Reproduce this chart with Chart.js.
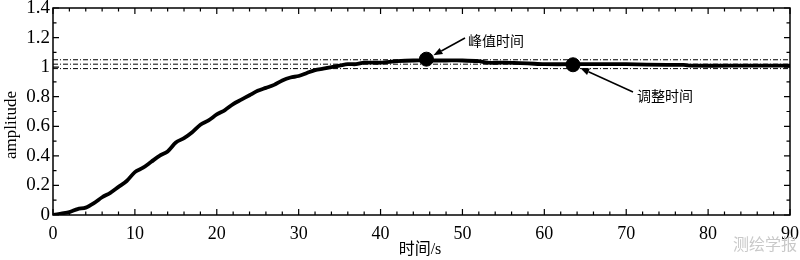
<!DOCTYPE html>
<html>
<head>
<meta charset="utf-8">
<script src="https://cdn.jsdelivr.net/npm/chart.js@4.4.1/dist/chart.umd.min.js"></script>
<style>
  html, body { margin: 0; padding: 0; background: #fff; }
  #wrap { width: 800px; height: 260px; }
</style>
</head>
<body>
<div id="wrap"><canvas id="step"></canvas></div>
<script>
// step response
var times     = [0, 1, 2, 3, 4, 5, 6, 7, 8, 9, 10, 11, 12, 13, 14, 15, 16, 17, 18, 19, 20,
                 21, 22, 23, 24, 25, 26, 27, 28, 29, 30, 31, 32, 33, 34, 35, 36, 37, 38, 40,
                 42, 44, 46, 48, 50, 52, 53, 55, 58, 60, 65, 68, 70, 75, 77, 78, 85, 90];
var amplitude = [0, 0.01, 0.02, 0.04, 0.05, 0.08, 0.12, 0.15, 0.19, 0.23, 0.29, 0.32, 0.36, 0.40, 0.43, 0.49, 0.52, 0.56, 0.61, 0.64, 0.68,
                 0.71, 0.75, 0.78, 0.81, 0.84, 0.86, 0.88, 0.91, 0.93, 0.94, 0.96, 0.98, 0.99, 1.00, 1.01, 1.02, 1.02, 1.03, 1.03,
                 1.04, 1.045, 1.045, 1.045, 1.045, 1.04, 1.03, 1.03, 1.025, 1.02, 1.02, 1.02, 1.02, 1.015, 1.015, 1.01, 1.01, 1.01];
var bandLevels = [1.05, 1.02, 0.99];
var markerTimes = [45.6, 63.5];
var markerValues = [1.054, 1.016];
var markerLabels = ['峰值时间', '调整时间'];
var xTickLabels = [0, 10, 20, 30, 40, 50, 60, 70, 80, 90];
var yTickLabels = [0, 0.2, 0.4, 0.6, 0.8, 1, 1.2, 1.4];

var serif = '"Liberation Serif", "Times New Roman", "Noto Sans CJK SC", serif';

// label text position / arrow tail in pixels
var labelText = [[468, 42], [637, 97]];
var labelTail = [[465, 38], [633, 92]];

var curve = times.map(function (t, i) { return { x: t, y: amplitude[i] }; });

var datasets = bandLevels.map(function (v) {
  return {
    data: [{ x: 0, y: v }, { x: 90, y: v }],
    borderColor: '#000',
    borderWidth: 1,
    borderDash: [5, 2, 1, 2],
    pointRadius: 0
  };
});
datasets.push({
  data: curve,
  borderColor: '#000',
  borderWidth: 3.8,
  tension: 0.3,
  pointRadius: 0
});
datasets.push({
  data: markerTimes.map(function (t, i) { return { x: t, y: markerValues[i] }; }),
  showLine: false,
  pointRadius: 7,
  pointBackgroundColor: '#000',
  pointBorderColor: '#000'
});

var frame = {
  id: 'frame',
  afterDatasetsDraw: function (chart) {
    var ctx = chart.ctx, a = chart.chartArea;
    var xs = chart.scales.x, ys = chart.scales.y;
    ctx.save();
    ctx.strokeStyle = '#000';
    ctx.lineWidth = 1.5;
    ctx.strokeRect(a.left, a.top, a.right - a.left, a.bottom - a.top);

    // inward ticks on all four sides
    ctx.lineWidth = 1.2;
    ctx.beginPath();
    for (var t = 0; t <= 90; t += 2) {
      var px = xs.getPixelForValue(t);
      var len = (t % 10 === 0) ? 6 : 3.5;
      ctx.moveTo(px, a.bottom); ctx.lineTo(px, a.bottom - len);
      ctx.moveTo(px, a.top); ctx.lineTo(px, a.top + len);
    }
    for (var k = 0; k <= 14; k++) {
      var py = ys.getPixelForValue(k / 10);
      var l = (k % 2 === 0) ? 6 : 3.5;
      ctx.moveTo(a.left, py); ctx.lineTo(a.left + l, py);
      ctx.moveTo(a.right, py); ctx.lineTo(a.right - l, py);
    }
    ctx.stroke();

    // arrows to markers
    ctx.fillStyle = '#000';
    ctx.lineWidth = 1.5;
    markerTimes.forEach(function (t, i) {
      var cx = xs.getPixelForValue(t), cy = ys.getPixelForValue(markerValues[i]);
      var tx = labelTail[i][0], ty = labelTail[i][1];
      var dx = tx - cx, dy = ty - cy, d = Math.sqrt(dx * dx + dy * dy);
      var ux = dx / d, uy = dy / d;
      var tipX = cx + ux * 8, tipY = cy + uy * 8;
      var baseX = tipX + ux * 9, baseY = tipY + uy * 9;
      ctx.beginPath();
      ctx.moveTo(tx, ty); ctx.lineTo(baseX, baseY);
      ctx.stroke();
      ctx.beginPath();
      ctx.moveTo(tipX, tipY);
      ctx.lineTo(baseX - uy * 3.5, baseY + ux * 3.5);
      ctx.lineTo(baseX + uy * 3.5, baseY - ux * 3.5);
      ctx.closePath();
      ctx.fill();

      ctx.font = '14px ' + serif;
      ctx.textAlign = 'left';
      ctx.textBaseline = 'middle';
      ctx.fillText(markerLabels[i], labelText[i][0], labelText[i][1]);
    });

    // y axis title, sits a little below the middle in the original
    ctx.save();
    ctx.translate(12, 125);
    ctx.rotate(-Math.PI / 2);
    ctx.font = '17px ' + serif;
    ctx.textAlign = 'center';
    ctx.textBaseline = 'middle';
    ctx.fillText('amplitude', 0, 0);
    ctx.restore();

    // x axis title
    ctx.font = '16px ' + serif;
    ctx.textAlign = 'center';
    ctx.textBaseline = 'middle';
    ctx.fillText('时间/s', 420, 250);

    // journal watermark
    ctx.fillStyle = '#c9c9c9';
    ctx.font = '16px "Noto Sans CJK SC", sans-serif';
    ctx.textAlign = 'left';
    ctx.fillText('测绘学报', 733, 244);
    ctx.restore();
  }
};

new Chart(document.getElementById('step'), {
  type: 'line',
  data: { datasets: datasets },
  options: {
    animation: false,
    responsive: true,
    maintainAspectRatio: false,
    layout: { padding: { top: 7, right: 10, left: 0, bottom: 0 } },
    plugins: {
      legend: { display: false },
      tooltip: { enabled: false }
    },
    scales: {
      x: {
        type: 'linear',
        min: 0,
        max: 90,
        afterBuildTicks: function (s) { s.ticks = xTickLabels.map(function (v) { return { value: v }; }); },
        afterFit: function (s) { s.height = 45; s.paddingLeft = 0; s.paddingRight = 0; },
        grid: { display: false, drawTicks: false },
        border: { display: false },
        ticks: {
          padding: 8,
          color: '#000',
          maxRotation: 0,
          font: { family: serif, size: 18 }
        },
        title: { display: false }
      },
      y: {
        min: 0,
        max: 1.4,
        afterBuildTicks: function (s) { s.ticks = yTickLabels.map(function (v) { return { value: v }; }); },
        afterFit: function (s) { s.width = 53; s.paddingTop = 0; s.paddingBottom = 0; },
        grid: { display: false, drawTicks: false },
        border: { display: false },
        ticks: {
          padding: 3,
          color: '#000',
          font: { family: serif, size: 19 },
          callback: function (v) { return String(v); }
        },
        title: { display: false }
      }
    }
  },
  plugins: [frame]
});
</script>
</body>
</html>
